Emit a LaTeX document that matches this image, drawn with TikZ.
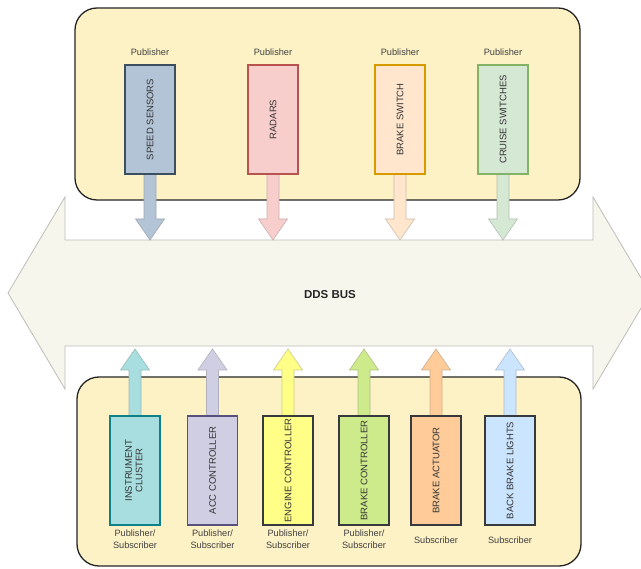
\documentclass[tikz,border=0pt]{standalone}
\usepackage{fontspec}
\setmainfont{Liberation Sans}
\usetikzlibrary{calc}

\definecolor{panelfill}{HTML}{FDF2C6}
\definecolor{busfill}{HTML}{F7F6EC}
\definecolor{busdraw}{HTML}{BDBDB8}
\definecolor{ssfill}{HTML}{B3C4D6}\definecolor{ssdraw}{HTML}{3C4F60}
\definecolor{radfill}{HTML}{F8CECC}\definecolor{raddraw}{HTML}{B85450}
\definecolor{bswfill}{HTML}{FFE6CC}\definecolor{bswdraw}{HTML}{D79B00}
\definecolor{cswfill}{HTML}{D5E8D4}\definecolor{cswdraw}{HTML}{82B366}
\definecolor{icfill}{HTML}{A8DEDF}\definecolor{icdraw}{HTML}{0E8088}
\definecolor{accfill}{HTML}{D0CEE2}\definecolor{accdraw}{HTML}{56517E}
\definecolor{engfill}{HTML}{FFFF88}\definecolor{engdraw}{HTML}{36393D}
\definecolor{bcfill}{HTML}{CDEB8B}\definecolor{bcdraw}{HTML}{36393D}
\definecolor{bafill}{HTML}{FFCC99}\definecolor{badraw}{HTML}{36393D}
\definecolor{bblfill}{HTML}{CCE5FF}\definecolor{bbldraw}{HTML}{36393D}

% thick block arrow from a point (#1) to its tip (#2), style options #3
\newcommand{\pipearrow}[3]{%
  \draw[#3] let \p1=(#1), \p2=(#2), \p3=($(#2)!21pt!(#1)$) in
    (\x1-6pt,\y1) -- (\x1-6pt,\y3) -- (\x1-14.5pt,\y3) -- (\x2,\y2)
    -- (\x1+14.5pt,\y3) -- (\x1+6pt,\y3) -- (\x1+6pt,\y1) -- cycle;}

\begin{document}
\begin{tikzpicture}[x=1pt,y=-1pt,
  panel/.style={draw=black!85, line width=1.3pt, fill=panelfill, rounded corners=22pt},
  bus/.style={draw=busdraw, line width=0.8pt, fill=busfill, line join=miter},
  unit/.style 2 args={draw=#2, fill=#1, line width=1.1pt, minimum width=50pt,
    minimum height=109pt, inner sep=0pt, text=black!80,
    font=\fontsize{9.5}{10.5}\selectfont},
  lbl/.style={font=\fontsize{9.2}{11.5}\selectfont, text=black!75, align=center, inner sep=0pt},
  arr/.style={fill=#1, draw=#1!60!gray, line width=0.6pt, line join=miter}
]
\clip (0,0) rectangle (641,569);
\fill[white] (0,0) rectangle (641,569);

% the shared data bus
\draw[bus] (8,293) -- (65,197) -- (65,240) -- (593,240) -- (593,197) -- (650,293)
  -- (593,389) -- (593,346) -- (65,346) -- (65,389) -- cycle;
\node[font=\bfseries\fontsize{11.5}{12}\selectfont, text=black!85] (bus) at (330,295) {DDS BUS};
\coordinate (bustop) at (0,240);
\coordinate (busbot) at (0,349);

% publisher and subscriber groups
\draw[panel] (75,8) rectangle (580,200);
\draw[panel] (77,377) rectangle (581,566);

% publisher units
\node[unit={ssfill}{ssdraw}]   (ss)  at (150,119.5) {};
\node[unit={radfill}{raddraw}] (rad) at (273,119.5) {};
\node[unit={bswfill}{bswdraw}] (bsw) at (400,119.5) {};
\node[unit={cswfill}{cswdraw}] (csw) at (503,119.5) {};

% subscriber units
\node[unit={icfill}{icdraw}]   (ic)  at (135,470.5) {};
\node[unit={accfill}{accdraw}] (acc) at (212.5,470.5) {};
\node[unit={engfill}{engdraw}] (eng) at (288,470.5) {};
\node[unit={bcfill}{bcdraw}]   (bc)  at (364,470.5) {};
\node[unit={bafill}{badraw}]   (ba)  at (436,470.5) {};
\node[unit={bblfill}{bbldraw}] (bbl) at (510,470.5) {};

% arrow tips on the bus
\foreach \n in {ss,rad,bsw,csw} \coordinate (\n-tip) at (\n.south |- bustop);
\foreach \n in {ic,acc,eng,bc,ba,bbl} \coordinate (\n-tip) at (\n.north |- busbot);

\pipearrow{ss.south}{ss-tip}{arr=ssfill}
\pipearrow{rad.south}{rad-tip}{arr=radfill}
\pipearrow{bsw.south}{bsw-tip}{arr=bswfill}
\pipearrow{csw.south}{csw-tip}{arr=cswfill}
\pipearrow{ic.north}{ic-tip}{arr=icfill}
\pipearrow{acc.north}{acc-tip}{arr=accfill}
\pipearrow{eng.north}{eng-tip}{arr=engfill}
\pipearrow{bc.north}{bc-tip}{arr=bcfill}
\pipearrow{ba.north}{ba-tip}{arr=bafill}
\pipearrow{bbl.north}{bbl-tip}{arr=bblfill}

% redraw the units on top of the arrow stems
\node[unit={ssfill}{ssdraw}]   at (ss)  {\rotatebox{90}{SPEED SENSORS}};
\node[unit={radfill}{raddraw}] at (rad) {\rotatebox{90}{RADARS}};
\node[unit={bswfill}{bswdraw}] at (bsw) {\rotatebox{90}{BRAKE SWITCH}};
\node[unit={cswfill}{cswdraw}] at (csw) {\rotatebox{90}{CRUISE SWITCHES}};
\node[unit={icfill}{icdraw}]   at (ic)  {\rotatebox{90}{\begin{tabular}{@{}c@{}}INSTRUMENT\\CLUSTER\end{tabular}}};
\node[unit={accfill}{accdraw}] at (acc) {\rotatebox{90}{ACC CONTROLLER}};
\node[unit={engfill}{engdraw}] at (eng) {\rotatebox{90}{ENGINE CONTROLLER}};
\node[unit={bcfill}{bcdraw}]   at (bc)  {\rotatebox{90}{BRAKE CONTROLLER}};
\node[unit={bafill}{badraw}]   at (ba)  {\rotatebox{90}{BRAKE ACTUATOR}};
\node[unit={bblfill}{bbldraw}] at (bbl) {\rotatebox{90}{BACK BRAKE LIGHTS}};

% roles
\node[lbl] (ss-role)  at (150,52) {Publisher};
\node[lbl] (rad-role) at (273,52) {Publisher};
\node[lbl] (bsw-role) at (400,52) {Publisher};
\node[lbl] (csw-role) at (503,52) {Publisher};
\node[lbl] (ic-role)  at (135,539) {Publisher/\\Subscriber};
\node[lbl] (acc-role) at (212.5,539) {Publisher/\\Subscriber};
\node[lbl] (eng-role) at (288,539) {Publisher/\\Subscriber};
\node[lbl] (bc-role)  at (364,539) {Publisher/\\Subscriber};
\node[lbl] (ba-role)  at (436,540) {Subscriber};
\node[lbl] (bbl-role) at (510,540) {Subscriber};
\end{tikzpicture}
\end{document}
